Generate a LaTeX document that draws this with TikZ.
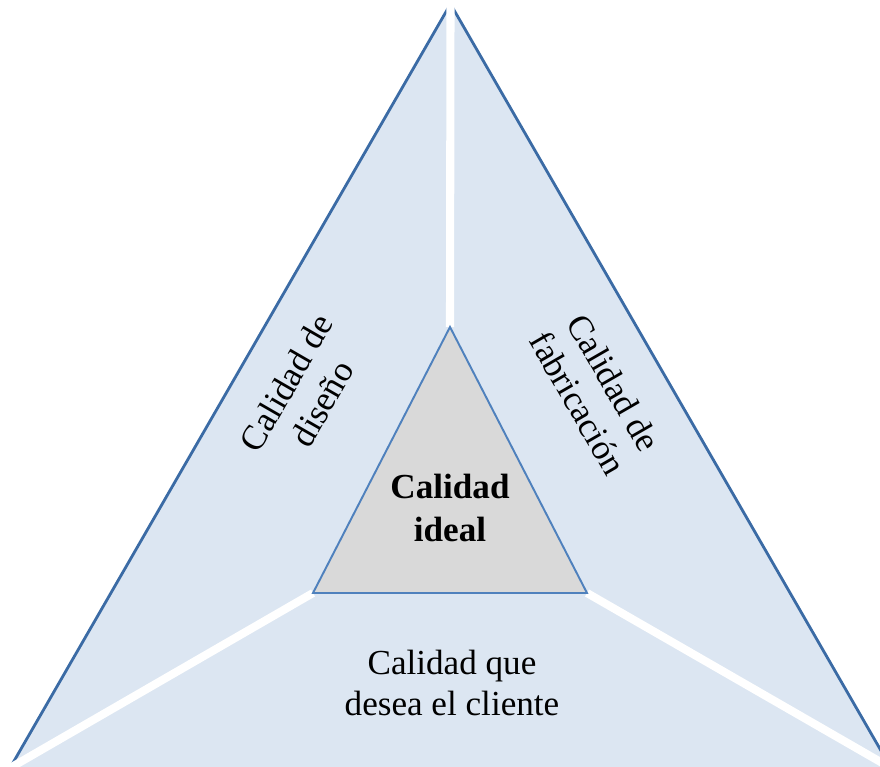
\documentclass[tikz,border=0pt]{standalone}
\usepackage{fontspec}
\setmainfont{Liberation Serif}
\usepackage{tikz}
\definecolor{qedge}{HTML}{3B6BA5}
\definecolor{qfill}{HTML}{DCE6F2}
\definecolor{qcore}{HTML}{D9D9D9}
\definecolor{qline}{HTML}{4F81BD}

\begin{document}
\begin{tikzpicture}[x=0.02cm,y=-0.02cm,
  sideText/.style={align=center,text=black,
    font=\fontsize{20}{23.5}\selectfont},
  gapLine/.style={white,line width=4.6pt,shorten >=-12pt},
  edgeLine/.style={qedge,line width=1.6pt}
]
\clip (0,0) rectangle (880,767);
\coordinate (top) at (450.5,4);
\coordinate (bl) at (10,768);
\coordinate (br) at (891,768);
\coordinate (ia) at (450,327);
\coordinate (il) at (313,593);
\coordinate (ir) at (587,593);

\fill[qfill] (top) -- (bl) -- (br) -- cycle;
\draw[edgeLine] (bl) -- (top);
\draw[edgeLine] (br) -- (top);
\draw[gapLine] (ia) -- (top);
\draw[gapLine] (il) -- (bl);
\draw[gapLine] (ir) -- (br);
\draw[qline,fill=qcore,line width=1.1pt] (ia) -- (il) -- (ir) -- cycle;

\node[sideText,rotate=60] (design) at (304,393) {Calidad de\\diseño};
\node[sideText,rotate=-60] (making) at (596,393) {Calidad de\\fabricación};
\node[sideText] (client) at (452,683) {Calidad que\\desea el cliente};
\node[align=center,font=\bfseries\fontsize{20}{24.5}\selectfont] (ideal)
  at (450,508) {Calidad\\ideal};
\end{tikzpicture}
\end{document}
